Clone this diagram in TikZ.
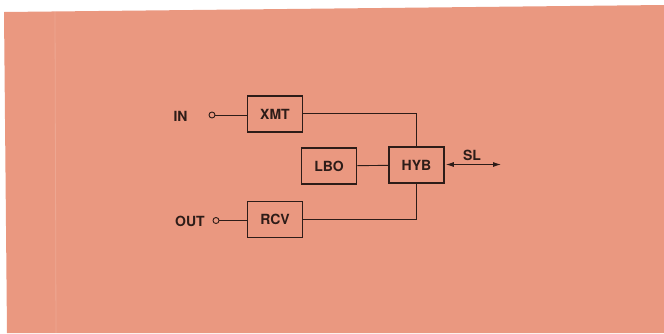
\documentclass[tikz,border=0pt]{standalone}
\usepackage{fontspec}
\setmainfont{TeX Gyre Heros}
\usetikzlibrary{arrows.meta}
\definecolor{paper}{RGB}{234,152,128}
\definecolor{ink}{RGB}{45,28,24}
\begin{document}
\begin{tikzpicture}[x=1pt,y=-1pt,
  blk/.style={draw=ink,line width=1.7pt,minimum width=55pt,minimum height=36pt,inner sep=0pt,font=\fontsize{14}{14}\selectfont\bfseries,text=ink},
  lbl/.style={font=\fontsize{14}{14}\selectfont\bfseries,text=ink,inner sep=0pt},
  wire/.style={draw=ink,line width=0.9pt},
  term/.style={circle,draw=ink,line width=0.9pt,minimum size=6pt,inner sep=0pt}]
\useasboundingbox (0,0) rectangle (664,333);
\fill[white] (0,0) rectangle (664,333);
\fill[paper] (4,12) -- (664,5) -- (664,333) -- (7,333) -- cycle;
\draw[white,opacity=0.15,line width=0.8pt] (55,11) -- (56,333);
\node[blk] (xmt) at (275,114) {XMT};
\node[blk] (lbo) at (329,166) {LBO};
\node[blk] (hyb) at (416.5,165) {HYB};
\node[blk] (rcv) at (275,219.5) {RCV};
\node[term] (tin) at (212,115) {};
\node[term] (tout) at (216,220.5) {};
\node[lbl] (in) at (180.5,116) {IN};
\node[lbl] (out) at (190,221) {OUT};
\node[lbl] (sl) at (472,155) {SL};
\coordinate (slend) at (501,164.5);
\draw[wire] (tin) -- (xmt.west |- tin);
\draw[wire] (tout) -- (rcv.west |- tout);
\draw[wire] (xmt.east |- 0,113.5) -| (hyb.north);
\draw[wire] (rcv.east |- 0,219) -| (hyb.south);
\draw[wire] (lbo) -- (hyb);
\draw[wire,{Latex[length=8pt,width=5pt]}-{Latex[length=8pt,width=5pt]}] ([xshift=1pt]hyb.east |- slend) -- (slend);
\end{tikzpicture}
\end{document}
